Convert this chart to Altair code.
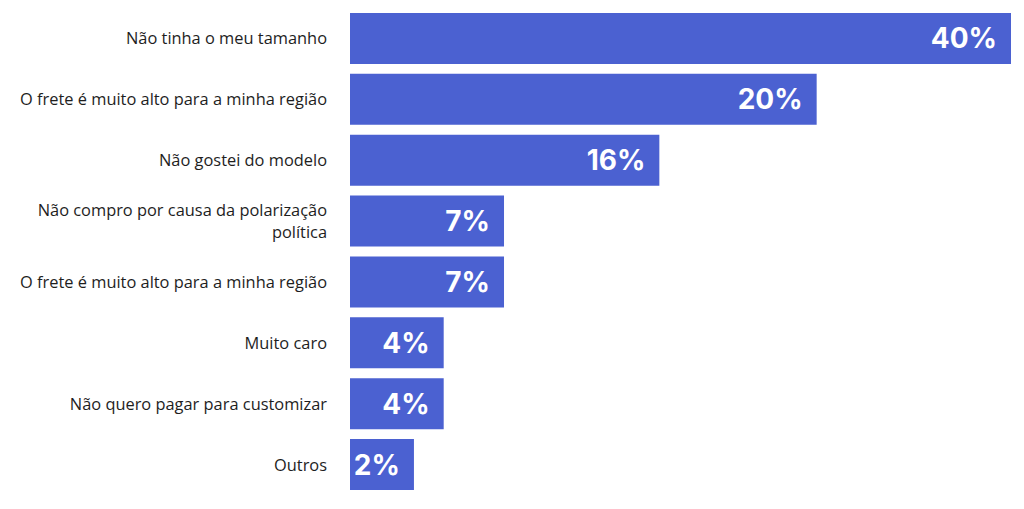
import altair as alt
import pandas as pd

motivos = [
    "Não tinha o meu tamanho",
    "O frete é muito alto para a minha região",
    "Não gostei do modelo",
    "Não compro por causa da polarização\npolítica",
    "O frete é muito alto para a minha região",
    "Muito caro",
    "Não quero pagar para customizar",
    "Outros",
]
percentuais = [40, 20, 16, 7, 7, 4, 4, 2]
# bar lengths as drawn in the picture (in the same units, 40 = full bar)
comprimento = [40, 28.24, 18.72, 9.32, 9.32, 5.67, 5.67, 3.87]

df = pd.DataFrame({
    "ordem": list(range(len(motivos))),
    "motivo": motivos,
    "pct": percentuais,
    "comp": comprimento,
})
df["rotulo"] = df["pct"].astype(str) + "%"
df["multi"] = df["motivo"].str.contains("\n")

COR = "#4b61d1"

y_enc = alt.Y("ordem:O", axis=None,
              scale=alt.Scale(paddingInner=0.164, paddingOuter=0.082))
x_scale = alt.Scale(domain=[0, 40], nice=False, zero=True)

base = alt.Chart(df)

barras = base.mark_bar(color=COR).encode(
    y=y_enc,
    x=alt.X("comp:Q", axis=None, scale=x_scale),
)

valores = base.mark_text(
    align="right", baseline="middle", dx=-14, dy=2,
    font="Inter", fontWeight=700, fontSize=28, color="white",
).encode(
    y=y_enc,
    x=alt.X("comp:Q", scale=x_scale),
    text="rotulo:N",
)

estilo = dict(align="right", baseline="middle", dx=-23,
              font="Open Sans", fontSize=16.4, color="#1e1e1e",
              lineBreak="\n", lineHeight=22)

rotulos = base.transform_filter("!datum.multi").mark_text(dy=1, **estilo).encode(
    y=y_enc,
    x=alt.value(0),
    text="motivo:N",
)

rotulos_multi = base.transform_filter("datum.multi").mark_text(dy=-10, **estilo).encode(
    y=y_enc,
    x=alt.value(0),
    text="motivo:N",
)

chart = alt.layer(barras, valores, rotulos, rotulos_multi).properties(
    width=661,
    height=487,
    autosize=alt.AutoSizeParams(type="none"),
    padding={"left": 342, "top": 0, "right": 5, "bottom": 5},
).configure_view(stroke=None)

chart.save("out.html", embed_options={"renderer": "svg", "actions": False})
